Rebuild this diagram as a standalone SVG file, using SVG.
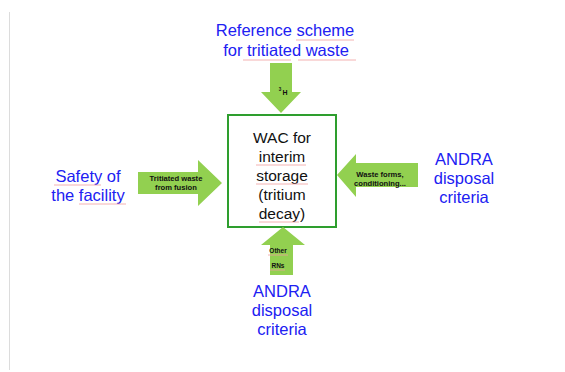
<svg xmlns="http://www.w3.org/2000/svg" width="565" height="372" viewBox="0 0 565 372">
<style>
.lbl{font-family:"Liberation Sans",Arial,sans-serif;font-size:16.5px;fill:#2020f2;text-anchor:middle}
.box{font-family:"Liberation Sans",Arial,sans-serif;font-size:15.5px;fill:#111;text-anchor:middle}
.sm{font-family:"Liberation Sans",Arial,sans-serif;font-size:7.6px;font-weight:bold;fill:#111;text-anchor:middle}
.arr{fill:#92d050}
.sq{fill:none;stroke:#f0a0a0;stroke-width:0.8}
</style>
<rect width="565" height="372" fill="#ffffff"/>
<line x1="9.5" y1="12" x2="9.5" y2="370" stroke="#dcdcdc" stroke-width="1"/>
<g id="top-label">
<text class="lbl" x="285" y="36">Reference scheme</text>
<text class="lbl" x="286" y="56">for tritiated waste</text>
<path class="sq" d="M296 40h58M243 60h48M298 60h58"/>
</g>
<g id="left-label">
<text class="lbl" x="88" y="182">Safety of</text>
<text class="lbl" x="88" y="201">the facility</text>
<path class="sq" d="M54 185h47M79 204h47"/>
</g>
<g id="right-label">
<text class="lbl" x="464" y="165">ANDRA</text>
<text class="lbl" x="464" y="184">disposal</text>
<text class="lbl" x="464" y="203">criteria</text>
</g>
<g id="bottom-label">
<text class="lbl" x="282" y="297">ANDRA</text>
<text class="lbl" x="282" y="316">disposal</text>
<text class="lbl" x="282" y="335">criteria</text>
</g>
<g id="center-box">
<rect x="228" y="115" width="108" height="112" fill="#ffffff" stroke="#2e9e2e" stroke-width="2"/>
<text class="box" x="282" y="143">WAC for</text>
<text class="box" x="282" y="162">interim</text>
<text class="box" x="282" y="181">storage</text>
<text class="box" x="282" y="200">(tritium</text>
<text class="box" x="282" y="219">decay)</text>
<path class="sq" d="M256 165h50M256 184h52M259 222h40"/>
</g>
<g id="connectors">
<g id="arrow-top">
<polygon class="arr" points="270,63 292,63 292,92 301,92 281,113 261,92 270,92"/>
<text class="sm" x="285" y="95" style="font-size:7px">H</text>
<text class="sm" x="280" y="91" style="font-size:4.5px">3</text>
</g>
<g id="arrow-left">
<polygon class="arr" points="138,172 198,172 198,160 222,183 198,206 198,194 138,194"/>
<text class="sm" x="176" y="181">Tritiated waste</text>
<text class="sm" x="176" y="190">from fusion</text>
</g>
<g id="arrow-right">
<polygon class="arr" points="418,163 356,163 356,154 337,175 356,197 356,187 418,187"/>
<text class="sm" x="380" y="177">Waste forms,</text>
<text class="sm" x="380" y="186">conditioning...</text>
</g>
<g id="arrow-bottom">
<polygon class="arr" points="270,275 293,275 293,245 305,245 283,227 261,245 270,245"/>
<text class="sm" x="278" y="253" style="font-size:6.5px">Other</text>
<text class="sm" x="278" y="268" style="font-size:6.5px">RNs</text>
<path class="sq" d="M268 255h20M270 270h15"/>
</g>
</g>
</svg>
